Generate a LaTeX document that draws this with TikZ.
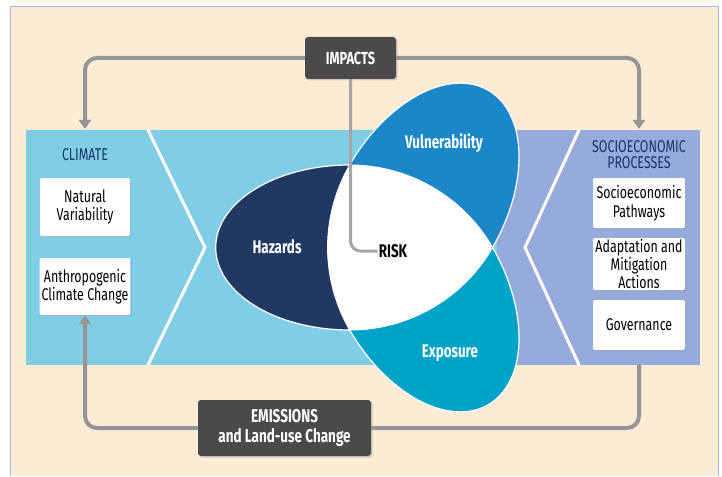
\documentclass[tikz,border=0pt]{standalone}
\usepackage{fontspec}
\setmainfont{Fira Sans}[FakeStretch=0.73]
\usetikzlibrary{arrows.meta,shadows}
\definecolor{beige}{RGB}{252,236,214}
\definecolor{frameline}{RGB}{165,185,225}
\definecolor{climblue}{RGB}{128,205,232}
\definecolor{socblue}{RGB}{150,170,220}
\definecolor{navytext}{RGB}{26,52,100}
\definecolor{hazardc}{RGB}{31,57,99}
\definecolor{vulnc}{RGB}{27,135,201}
\definecolor{expoc}{RGB}{0,163,200}
\definecolor{darkgraybox}{RGB}{74,74,76}
\definecolor{arrowgray}{RGB}{150,150,150}
\definecolor{linkgray}{RGB}{165,165,165}
\newcommand{\bxfont}{\fontsize{17}{18.5}\selectfont}
\newcommand{\lblfont}{\fontsize{18.3}{19}\selectfont\bfseries}
% petal: half ellipse pointing in direction #1 (pixel coords, y down), fill #2
\newcommand{\drawpetal}[2]{%
  \path[petal, fill=#2] plot[domain=-90:90, samples=72, variable=\t]
   ({397.3+47.6*cos(#1)+134*cos(\t)*cos(#1)-82.5*sin(\t)*sin(#1)},
    {247.5+47.6*sin(#1)+134*cos(\t)*sin(#1)+82.5*sin(\t)*cos(#1)}) -- cycle;}
\begin{document}
\begin{tikzpicture}[x=1pt,y=-1pt,
  whitebox/.style={fill=white, rounded corners=2pt, minimum width=90pt, inner sep=2pt, align=center, font=\bxfont, text=black, drop shadow={shadow xshift=1.2pt,shadow yshift=-1.2pt,opacity=0.25}},
  darkbox/.style={fill=darkgraybox, rounded corners=3pt, align=center, text=white, font=\lblfont, drop shadow={shadow xshift=1.5pt,shadow yshift=-1.5pt,opacity=0.3}},
  titletext/.style={font=\bxfont, text=navytext, align=center},
  petallabel/.style={font=\lblfont, text=white},
  flow/.style={draw=arrowgray, line width=4pt, rounded corners=12pt},
  tip/.style={-{Triangle[width=12pt,length=9pt]}},
  chevron/.style={draw=white, line width=3pt},
  petal/.style={draw=white, line width=1.2pt},
  risklink/.style={draw=linkgray, line width=3pt, rounded corners=10pt},
]
\useasboundingbox (0,0) rectangle (722,476);
\fill[white] (0,0) rectangle (722,476);
\fill[beige] (10,7) rectangle (718,476);
\draw[frameline, line width=1pt] (10,476) -- (10,7) -- (718,7) -- (718,476);

% bands
\fill[climblue] (26,130) rectangle (497,365);
\fill[socblue] (497,130) rectangle (700,365);
\draw[chevron] (148,130) -- (205,247.5) -- (148,365);
\draw[chevron] (579,130) -- (525,247.5) -- (579,365);

% petals
\drawpetal{180}{hazardc}
\drawpetal{300}{vulnc}
\drawpetal{60}{expoc}
% Reuleaux triangle (RISK area)
\path[fill=white, draw=white, line width=1pt]
  plot[domain=270:330, samples=40, variable=\t] ({349.7+165*cos(\t)},{330+165*sin(\t)})
  -- plot[domain=30:90, samples=40, variable=\t] ({349.7+165*cos(\t)},{165+165*sin(\t)})
  -- plot[domain=150:210, samples=40, variable=\t] ({492.6+165*cos(\t)},{247.5+165*sin(\t)})
  -- cycle;

% labels
\node[petallabel] (haz) at (277,247) {Hazards};
\node[petallabel] (vul) at (444,143) {Vulnerability};
\node[petallabel] (expo) at (450,353) {Exposure};
\node[font=\lblfont, text=black, inner sep=1pt] (risk) at (393,251) {RISK};

% titles
\node[titletext] (climt) at (85,155) {CLIMATE};
\node[titletext, font=\fontsize{17}{16}\selectfont] (soct) at (639,155) {SOCIOECONOMIC\\PROCESSES};

% white boxes
\node[whitebox, minimum height=58pt] (nat) at (85,207) {Natural\\Variability};
\node[whitebox, minimum height=57pt] (anth) at (85,286.5) {Anthropogenic\\Climate Change};
\node[whitebox, minimum width=92pt, minimum height=50pt] (sp) at (639,203) {Socioeconomic\\Pathways};
\node[whitebox, minimum width=92pt, minimum height=52pt, inner sep=1pt, font=\fontsize{17}{16.5}\selectfont] (am) at (639,264) {Adaptation and\\Mitigation\\Actions};
\node[whitebox, minimum width=92pt, minimum height=50pt] (gov) at (639,325) {Governance};

% dark boxes
\node[darkbox, minimum width=91pt, minimum height=42pt, font=\fontsize{17.5}{19}\selectfont\bfseries] (imp) at (350.5,58) {IMPACTS};
\node[darkbox, minimum width=173pt, minimum height=56pt, font=\fontsize{18.5}{20}\selectfont\bfseries] (emi) at (284.5,428) {EMISSIONS\\and Land-use Change};

% connectors
\coordinate (climtop) at (85,129);
\coordinate (soctop) at (639,129);
\coordinate (socbot) at (639,365);
\draw[risklink] (imp.south) |- (risk.west);
\draw[flow,tip] (imp.west) -| (climtop);
\draw[flow,tip] (imp.east) -| (soctop);
\draw[flow,tip] (emi.west) -| (anth.south);
\draw[flow] (emi.east) -| (socbot);
\end{tikzpicture}
\end{document}
